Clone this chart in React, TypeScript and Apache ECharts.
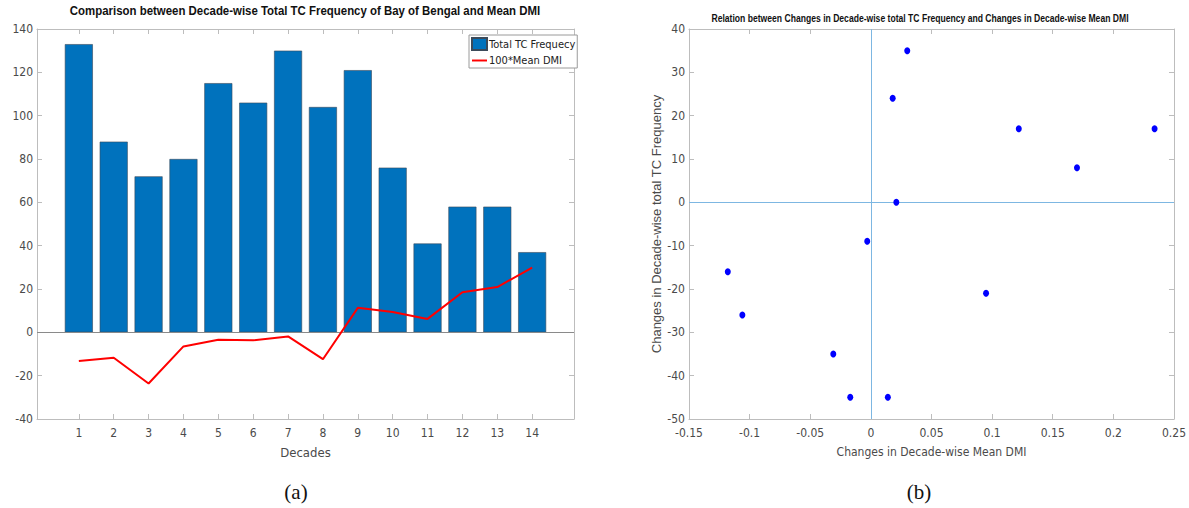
import React, { useEffect, useRef } from "react";
import * as echarts from "echarts";

const decades = [1, 2, 3, 4, 5, 6, 7, 8, 9, 10, 11, 12, 13, 14];
const tcFrequency = [133, 88, 72, 80, 115, 106, 130, 104, 121, 76, 41, 58, 58, 37];
const meanDmi100 = [-13.2, -11.7, -23.6, -6.5, -3.4, -3.7, -1.9, -12.4, 11.3, 9.4, 6.2, 18.5, 20.9, 29.9];
const dmiChange = [-0.118, -0.106, -0.031, -0.017, -0.003, 0.014, 0.018, 0.021, 0.03, 0.095, 0.122, 0.17, 0.234];
const tcChange = [-16, -26, -35, -45, -9, -45, 24, 0, 35, -21, 17, 8, 17];

const FONT = "'Liberation Sans Narrow', 'DejaVu Sans Condensed', 'Liberation Sans', Arial, sans-serif";
const AXIS_COLOR = "#bdbdbd";
const LABEL_COLOR = "#4a4a4a";

export default function App() {
  const ref = useRef<HTMLDivElement>(null);
  useEffect(() => {
    if (!ref.current) return;
    const chart = echarts.init(ref.current, undefined, { renderer: "svg" });
    const axisLine = { show: true, onZero: false, lineStyle: { color: AXIS_COLOR, width: 1 } };
    const axisTick = { show: true, inside: true, length: 5, lineStyle: { color: AXIS_COLOR } };
    const axisLabel = { color: LABEL_COLOR, fontSize: 12, fontFamily: FONT };
    const option: any = {
      animation: false,
      textStyle: { fontFamily: FONT },
      grid: [
        { left: 37, top: 29, width: 537, height: 390 },
        { left: 689, top: 29, width: 485, height: 390 },
      ],
      legend: {
        data: [
          { name: "Total TC Frequecy", icon: "rect" },
          { name: "100*Mean DMI", icon: "path://M0,0H10V1.3H0Z" },
        ],
        orient: "vertical",
        left: 469,
        top: 35,
        itemGap: 4,
        itemWidth: 15,
        itemHeight: 12,
        borderColor: "#9a9a9a",
        borderWidth: 1,
        borderRadius: 0,
        padding: [2, 2, 2, 2],
        backgroundColor: "#fff",
        textStyle: { fontSize: 11, color: "#222", fontFamily: FONT, padding: [0, 0, 0, -3] },
        z: 10,
      },
      xAxis: [
        {
          gridIndex: 0, type: "value", min: -0.2, max: 15.2, position: "bottom",
          axisLine, splitLine: { show: false },
          axisTick: { ...axisTick, customValues: decades },
          axisLabel: { ...axisLabel, margin: 8, customValues: decades },
          name: "Decades", nameLocation: "middle", nameGap: 27,
          nameTextStyle: { color: LABEL_COLOR, fontSize: 13, fontFamily: FONT },
        },
        {
          gridIndex: 0, type: "value", min: -0.2, max: 15.2, position: "top",
          axisLine, splitLine: { show: false },
          axisTick: { ...axisTick, customValues: decades },
          axisLabel: { show: false },
        },
        {
          gridIndex: 1, type: "value", min: -0.15, max: 0.25, interval: 0.05, position: "bottom",
          axisLine, splitLine: { show: false }, axisTick,
          axisLabel: { ...axisLabel, margin: 8, formatter: (v: number) => String(Math.round(v * 100) / 100) },
          name: "Changes in Decade-wise Mean DMI", nameLocation: "middle", nameGap: 27,
          nameTextStyle: { color: LABEL_COLOR, fontSize: 12, fontFamily: FONT },
        },
        {
          gridIndex: 1, type: "value", min: -0.15, max: 0.25, interval: 0.05, position: "top",
          axisLine, splitLine: { show: false }, axisTick, axisLabel: { show: false },
        },
      ],
      yAxis: [
        {
          gridIndex: 0, type: "value", min: -40, max: 140, interval: 20, position: "left",
          axisLine, splitLine: { show: false }, axisTick, axisLabel: { ...axisLabel, margin: 4 },
        },
        {
          gridIndex: 0, type: "value", min: -40, max: 140, interval: 20, position: "right",
          axisLine, splitLine: { show: false }, axisTick, axisLabel: { show: false },
        },
        {
          gridIndex: 1, type: "value", min: -50, max: 40, interval: 10, position: "left",
          axisLine, splitLine: { show: false }, axisTick, axisLabel: { ...axisLabel, margin: 4 },
          name: "Changes in Decade-wise total TC Frequency", nameLocation: "middle", nameGap: 16,
          nameRotate: 90,
          nameTextStyle: { color: LABEL_COLOR, fontSize: 13, fontFamily: "'Liberation Sans', Arial, sans-serif" },
        },
        {
          gridIndex: 1, type: "value", min: -50, max: 40, interval: 10, position: "right",
          axisLine, splitLine: { show: false }, axisTick, axisLabel: { show: false },
        },
      ],
      series: [
        {
          name: "Total TC Frequecy",
          type: "bar",
          xAxisIndex: 0, yAxisIndex: 0,
          barWidth: 28,
          data: decades.map((d, i) => [d, tcFrequency[i]]),
          itemStyle: { color: "#0072BD", borderColor: "#3b4a5a", borderWidth: 0.6 },
          markLine: {
            silent: true, symbol: "none", label: { show: false },
            lineStyle: { color: "#8a8a8a", width: 1, type: "solid" },
            data: [{ yAxis: 0 }],
          },
        },
        {
          name: "100*Mean DMI",
          type: "line",
          xAxisIndex: 0, yAxisIndex: 0,
          symbol: "none",
          data: decades.map((d, i) => [d, meanDmi100[i]]),
          lineStyle: { color: "#ff0000", width: 2 },
          itemStyle: { color: "#ff0000" },
          z: 5,
        },
        {
          name: "changes",
          type: "scatter",
          xAxisIndex: 2, yAxisIndex: 2,
          symbol: "circle",
          symbolSize: [6, 7],
          data: dmiChange.map((x, i) => [x, tcChange[i]]),
          itemStyle: { color: "#0000ff", opacity: 1 },
          markLine: {
            silent: true, symbol: "none", label: { show: false },
            lineStyle: { color: "#7db7e2", width: 1, type: "solid" },
            data: [{ xAxis: 0 }, { yAxis: 0 }],
          },
          z: 5,
        },
      ],
      graphic: [
        {
          type: "text", x: 305, y: 11, scaleX: 0.88,
          style: {
            text: "Comparison between Decade-wise Total TC Frequency of Bay of Bengal and Mean DMI",
            font: "bold 13px 'Liberation Sans', Arial, sans-serif", fill: "#111",
            align: "center", verticalAlign: "middle",
          },
        },
        {
          type: "text", x: 920, y: 19, scaleX: 0.86,
          style: {
            text: "Relation between Changes in Decade-wise total TC Frequency and Changes in Decade-wise Mean DMI",
            font: "bold 10px 'Liberation Sans', Arial, sans-serif", fill: "#111",
            align: "center", verticalAlign: "middle",
          },
        },
        {
          type: "text", x: 296, y: 492,
          style: { text: "(a)", font: "21px 'Liberation Serif', 'DejaVu Serif', serif", fill: "#111", align: "center", verticalAlign: "middle" },
        },
        {
          type: "text", x: 919, y: 492,
          style: { text: "(b)", font: "21px 'Liberation Serif', 'DejaVu Serif', serif", fill: "#111", align: "center", verticalAlign: "middle" },
        },
      ],
    };
    chart.setOption(option);
    return () => chart.dispose();
  }, []);
  return (
    <div
      ref={ref}
      style={{ position: "absolute", left: 0, top: 0, width: 1189, height: 508, background: "#fff" }}
    />
  );
}
